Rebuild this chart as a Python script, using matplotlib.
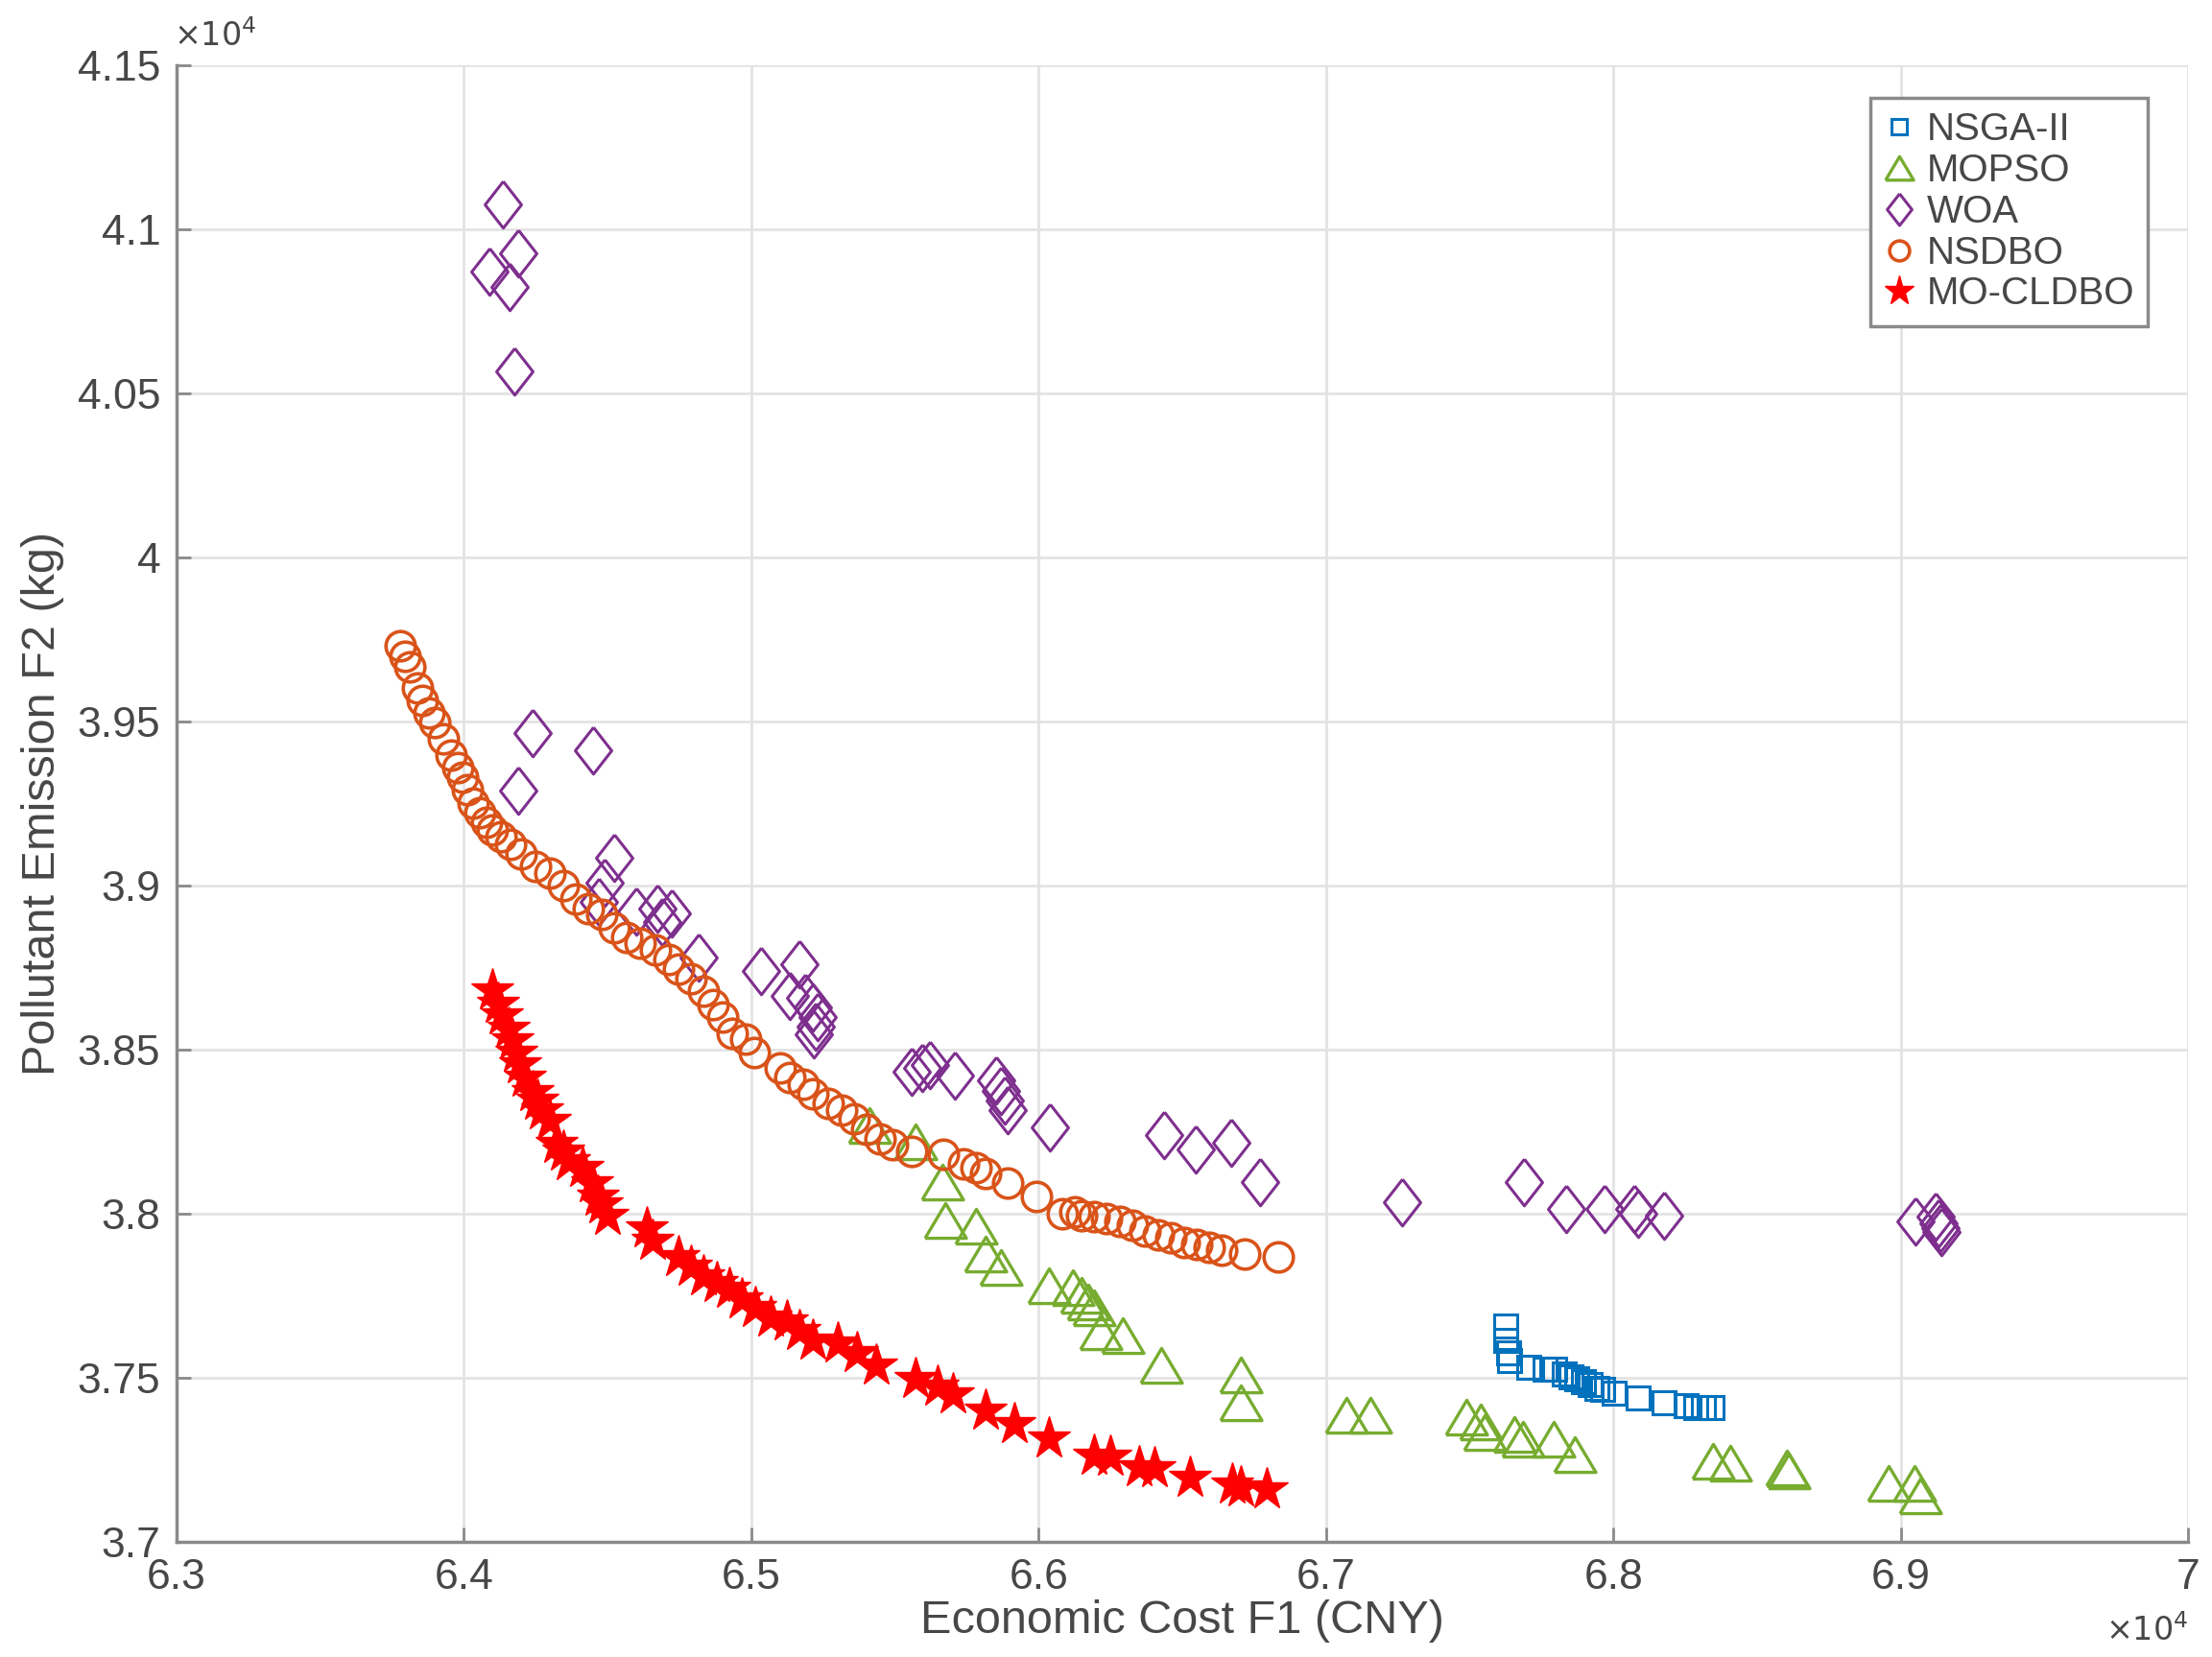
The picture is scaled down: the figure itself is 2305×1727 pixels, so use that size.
import matplotlib
matplotlib.use("Agg")
import matplotlib.pyplot as plt
from matplotlib.ticker import FuncFormatter

plt.rcParams['font.family'] = ['Liberation Sans', 'DejaVu Sans']

# values in units of 1e4
nsga_x = [6.7624, 6.7624, 6.7635, 6.7640, 6.7707, 6.7763, 6.7796, 6.7830, 6.7852, 6.7874, 6.7896,
          6.7919, 6.7941, 6.7963, 6.8002, 6.8086, 6.8175, 6.8253, 6.8286, 6.8314, 6.8342]
nsga_y = [3.7659, 3.7615, 3.7576, 3.7552, 3.7532, 3.7527, 3.7525, 3.7513, 3.7503, 3.7498, 3.7488,
          3.7479, 3.7469, 3.7464, 3.7454, 3.7439, 3.7425, 3.7415, 3.7410, 3.7410, 3.7410]

mopso_x = [6.5410, 6.5572, 6.5664, 6.5675, 6.5781, 6.5815, 6.5870, 6.6035, 6.6120, 6.6149, 6.6171,
           6.6193, 6.6215, 6.6293, 6.6427, 6.6703, 6.6705, 6.7072, 6.7156, 6.7490, 6.7540, 6.7551,
           6.7657, 6.7685, 6.7793, 6.7865, 6.8347, 6.8408, 6.8604, 6.8609, 6.8958, 6.9047, 6.9069]
mopso_y = [3.8270, 3.8220, 3.8097, 3.7980, 3.7963, 3.7878, 3.7836, 3.7781, 3.7776, 3.7750, 3.7732,
           3.7712, 3.7639, 3.7630, 3.7537, 3.7510, 3.7425, 3.7386, 3.7386, 3.7381, 3.7366, 3.7332,
           3.7327, 3.7313, 3.7313, 3.7266, 3.7245, 3.7240, 3.7225, 3.7215, 3.7177, 3.7177, 3.7140]

woa_x = [6.4136, 6.4190, 6.4090, 6.4160, 6.4175, 6.4240, 6.4450, 6.4190, 6.4523, 6.4490, 6.4470,
         6.4600, 6.4673, 6.4723, 6.4690, 6.4817, 6.5035, 6.5167, 6.5135, 6.5186, 6.5213, 6.5230,
         6.5224, 6.5219, 6.5558, 6.5595, 6.5620, 6.5709, 6.5853, 6.5870, 6.5881, 6.5892, 6.6038,
         6.6438, 6.6546, 6.6669, 6.6772, 6.7263, 6.7690, 6.7837, 6.7970, 6.8073, 6.8085, 6.8177,
         6.9052, 6.9120, 6.9130, 6.9137, 6.9140]
woa_y = [4.1076, 4.0927, 4.0870, 4.0825, 4.0567, 3.9465, 3.9413, 3.9290, 3.9084, 3.9010, 3.8950,
         3.8921, 3.8930, 3.8915, 3.8890, 3.8780, 3.8740, 3.8760, 3.8663, 3.8658, 3.8629, 3.8600,
         3.8570, 3.8546, 3.8434, 3.8445, 3.8453, 3.8420, 3.8405, 3.8375, 3.8346, 3.8317, 3.8263,
         3.8239, 3.8195, 3.8217, 3.8096, 3.8036, 3.8096, 3.8014, 3.8014, 3.8014, 3.8000, 3.7993,
         3.7978, 3.7990, 3.7970, 3.7957, 3.7945]

nsdbo_x = [6.3777, 6.3794, 6.3811, 6.3838, 6.3855, 6.3877, 6.3900, 6.3927, 6.3955, 6.3978, 6.3994,
           6.4011, 6.4033, 6.4055, 6.4078, 6.4100, 6.4128, 6.4161, 6.4200, 6.4250, 6.4300, 6.4345,
           6.4389, 6.4434, 6.4479, 6.4523, 6.4567, 6.4612, 6.4668, 6.4712, 6.4746, 6.4790, 6.4835,
           6.4868, 6.4902, 6.4935, 6.4980, 6.5010, 6.5102, 6.5135, 6.5180, 6.5213, 6.5269, 6.5314,
           6.5358, 6.5402, 6.5447, 6.5492, 6.5558, 6.5670, 6.5737, 6.5781, 6.5815, 6.5892, 6.5993,
           6.6082, 6.6126, 6.6149, 6.6193, 6.6237, 6.6282, 6.6327, 6.6371, 6.6416, 6.6460, 6.6505,
           6.6549, 6.6594, 6.6638, 6.6716, 6.6833]
nsdbo_y = [3.9730, 3.9700, 3.9667, 3.9603, 3.9564, 3.9525, 3.9496, 3.9447, 3.9399, 3.9360, 3.9330,
           3.9292, 3.9252, 3.9223, 3.9194, 3.9170, 3.9150, 3.9126, 3.9097, 3.9058, 3.9038, 3.8999,
           3.8960, 3.8931, 3.8911, 3.8872, 3.8843, 3.8824, 3.8804, 3.8775, 3.8746, 3.8716, 3.8677,
           3.8638, 3.8599, 3.8550, 3.8531, 3.8490, 3.8444, 3.8414, 3.8395, 3.8366, 3.8336, 3.8317,
           3.8288, 3.8258, 3.8229, 3.8210, 3.8190, 3.8181, 3.8151, 3.8141, 3.8122, 3.8093, 3.8054,
           3.8000, 3.8005, 3.7995, 3.7990, 3.7985, 3.7976, 3.7966, 3.7947, 3.7937, 3.7927, 3.7912,
           3.7907, 3.7898, 3.7888, 3.7878, 3.7868]

cldbo_x = [6.4100, 6.4120, 6.4133, 6.4156, 6.4170, 6.4183, 6.4197, 6.4211, 6.4239, 6.4255, 6.4273,
           6.4300, 6.4323, 6.4345, 6.4367, 6.4412, 6.4445, 6.4467, 6.4480, 6.4501, 6.4635, 6.4657,
           6.4746, 6.4790, 6.4835, 6.4879, 6.4924, 6.4968, 6.5013, 6.5068, 6.5124, 6.5169, 6.5213,
           6.5302, 6.5369, 6.5436, 6.5570, 6.5648, 6.5703, 6.5815, 6.5915, 6.6037, 6.6193, 6.6249,
           6.6349, 6.6404, 6.6527, 6.6672, 6.6705, 6.6794]
cldbo_y = [3.8682, 3.8640, 3.8604, 3.8565, 3.8530, 3.8492, 3.8455, 3.8414, 3.8370, 3.8345, 3.8317,
           3.8283, 3.8214, 3.8190, 3.8161, 3.8141, 3.8093, 3.8054, 3.8030, 3.7995, 3.7956, 3.7917,
           3.7868, 3.7839, 3.7810, 3.7790, 3.7771, 3.7741, 3.7712, 3.7683, 3.7673, 3.7644, 3.7615,
           3.7605, 3.7576, 3.7537, 3.7498, 3.7474, 3.7449, 3.7400, 3.7361, 3.7317, 3.7264, 3.7259,
           3.7229, 3.7225, 3.7195, 3.7176, 3.7166, 3.7161]

labels = ['NSGA-II', 'MOPSO', 'WOA', 'NSDBO', 'MO-CLDBO']
colors = ['#0072BD', '#77AC30', '#7E2F8E', '#D95319', '#FF0000']

txt = '#474747'
spine = '#8a8a8a'

fig = plt.figure(figsize=(23.05, 17.27), dpi=100)
ax = fig.add_axes([0.0798, 0.0695, 0.9094, 0.8911])

diamond = [(0, 1), (0.78, 0), (0, -1), (-0.78, 0), (0, 1)]
tri = [(-0.5, -0.42), (0.5, -0.42), (0, 0.42), (-0.5, -0.42)]

ax.plot(nsga_x, nsga_y, ls='none', marker='s', ms=17, mfc='none', mec=colors[0], mew=2.2,
        label=labels[0])
ax.plot(mopso_x, mopso_y, ls='none', marker=tri, ms=31, mfc='none', mec=colors[1], mew=2.4,
        label=labels[1])
ax.plot(woa_x, woa_y, ls='none', marker=diamond, ms=35, mfc='none', mec=colors[2], mew=2.2,
        label=labels[2])
ax.plot(nsdbo_x, nsdbo_y, ls='none', marker='o', ms=22, mfc='none', mec=colors[3], mew=2.6,
        label=labels[3])
ax.plot(cldbo_x, cldbo_y, ls='none', marker='*', ms=33, mfc=colors[4], mec=colors[4], mew=1,
        label=labels[4])

ax.set_xlim(6.3, 7.0)
ax.set_ylim(3.7, 4.15)
ax.set_xticks([6.3, 6.4, 6.5, 6.6, 6.7, 6.8, 6.9, 7.0])
ax.set_yticks([3.7, 3.75, 3.8, 3.85, 3.9, 3.95, 4.0, 4.05, 4.1, 4.15])
fmt = FuncFormatter(lambda v, p: '%g' % round(v, 2))
ax.xaxis.set_major_formatter(fmt)
ax.yaxis.set_major_formatter(fmt)

ax.grid(True, color='#e3e3e3', lw=2)
ax.set_axisbelow(True)
for s in ['top', 'right']:
    ax.spines[s].set_visible(False)
for s in ['left', 'bottom']:
    ax.spines[s].set_color(spine)
    ax.spines[s].set_linewidth(2.5)
ax.tick_params(direction='in', length=11, width=2, color=spine, labelsize=32, labelcolor=txt,
               pad=12)

ax.set_xlabel('Economic Cost F1 (CNY)', fontsize=35, color=txt, labelpad=2)
ax.set_ylabel('Pollutant Emission F2 (kg)', fontsize=35, color=txt, labelpad=10)

fig.text(0.0785, 0.968, r'$\times10^4$', fontsize=24, color=txt, ha='left', va='bottom')
fig.text(0.9892, 0.006, r'$\times10^4$', fontsize=24, color=txt, ha='right', va='bottom')

leg = ax.legend(loc='upper left', bbox_to_anchor=(0.8456, 0.9409), bbox_transform=fig.transFigure,
                fontsize=29, frameon=True, fancybox=False, edgecolor='#8a8a8a', framealpha=1,
                borderaxespad=0, handlelength=0.8, handletextpad=0.3, labelspacing=0.12,
                borderpad=0.35, markerscale=0.68)
leg.get_frame().set_linewidth(2.5)
for t in leg.get_texts():
    t.set_color(txt)

fig.savefig('out.png', dpi=100)
